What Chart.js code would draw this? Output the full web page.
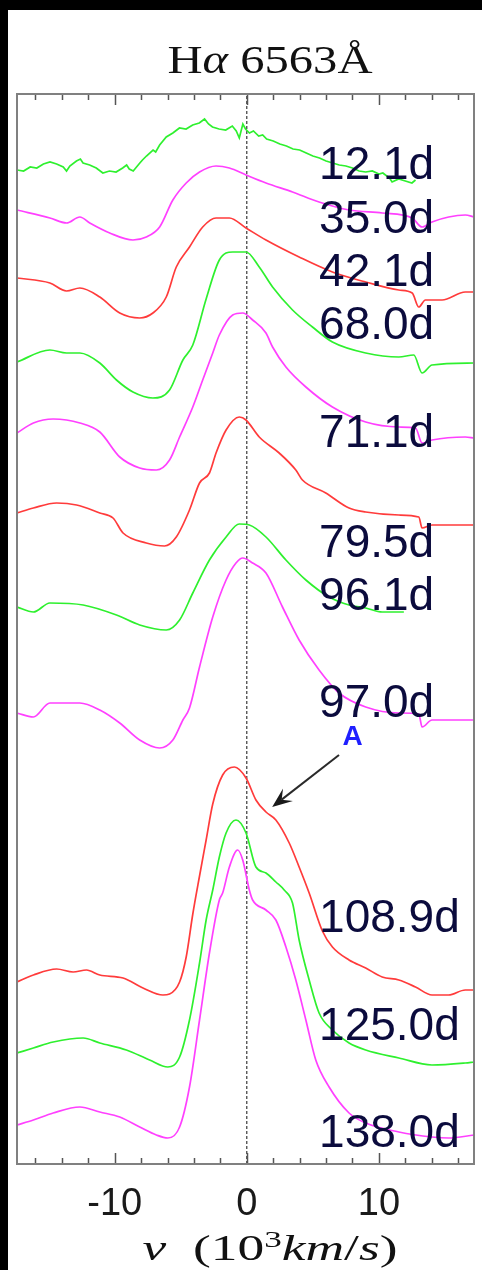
<!DOCTYPE html>
<html>
<head>
<meta charset="utf-8">
<script src="https://cdn.jsdelivr.net/npm/chart.js@4.4.1/dist/chart.umd.min.js"></script>
<style>
  html, body { margin: 0; padding: 0; background: #000; width: 482px; height: 1270px; overflow: hidden; }
  #panel { position: absolute; left: 8px; top: 10px; width: 474px; height: 1260px; background: #fff; }
  canvas { display: block; }
</style>
</head>
<body>
<div id="panel"><canvas id="spec" width="474" height="1260"></canvas></div>
<script>
// H-alpha line profiles, velocity in 10^3 km/s, flux scaled and shifted per epoch.
const epochs = ['12.1d', '35.0d', '42.1d', '68.0d', '71.1d', '79.5d', '96.1d', '97.0d', '108.9d', '125.0d', '138.0d'];
const colors = ['#2ef02e', '#ff40ff', '#ff3b3b', '#2ef02e', '#ff40ff', '#ff3b3b', '#2ef02e', '#ff40ff', '#ff3b3b', '#2ef02e', '#ff40ff'];

const v_12d = [-17.4,-16.9,-16.4,-15.9,-15.4,-14.9,-14.4,-13.9,-13.65,-13.4,-12.9,-12.6,-12.4,-11.9,-11.4,-10.9,-10.4,-9.9,-9.4,-9.1,-8.9,-8.6,-8.1,-7.9,-7.6,-7.1,-6.9,-6.6,-6.1,-5.6,-5.1,-4.6,-4.1,-3.6,-3.2,-2.9,-2.6,-2.1,-1.6,-1.1,-0.8,-0.57,-0.3,-0.1,0.2,0.5,0.9,1.2,1.5,2.0,2.5,3.0,3.5,4.0,4.5,5.0,5.5,6.0,6.5,7.0,7.5,8.0,8.5,9.0,9.5,10.0,10.3,10.8,11.0,11.5,12.0,12.5,12.77];
const f_12d = [9.94,9.93,9.97,9.96,10.00,10.02,10.00,9.97,9.93,9.98,10.03,10.05,10.01,9.99,9.96,9.91,9.93,9.92,9.96,9.99,9.95,9.93,10.01,10.04,10.08,10.14,10.12,10.19,10.27,10.31,10.36,10.35,10.39,10.41,10.45,10.40,10.37,10.35,10.34,10.38,10.33,10.26,10.40,10.35,10.31,10.33,10.28,10.29,10.25,10.23,10.20,10.18,10.15,10.14,10.11,10.08,10.06,10.03,10.01,9.99,9.98,9.96,9.93,9.92,9.93,9.90,9.91,9.86,9.82,9.85,9.83,9.81,9.84];

const v_35d = [-17.4,-14.91,-13.65,-12.64,-11.89,-10.38,-8.62,-7.61,-6.60,-5.60,-4.59,-3.58,-2.33,-1.32,-0.06,1.45,3.46,5.47,7.74,10.25,12.52,13.27,14.02,15.28,16.54,17.2];
const f_35d = [9.54,9.46,9.41,9.47,9.41,9.31,9.24,9.27,9.37,9.64,9.81,9.92,9.98,9.96,9.89,9.81,9.72,9.62,9.54,9.51,9.46,9.37,9.42,9.47,9.49,9.47];

const v_42d = [-17.4,-14.91,-13.65,-12.64,-11.13,-9.62,-8.11,-7.11,-6.10,-5.34,-4.34,-3.34,-2.33,-1.32,-0.06,1.45,3.96,6.48,9.00,11.51,12.52,13.02,13.52,14.78,16.54,17.2];
const f_42d = [8.86,8.81,8.73,8.76,8.67,8.51,8.46,8.51,8.67,8.97,9.17,9.37,9.46,9.46,9.36,9.24,9.07,8.92,8.82,8.74,8.71,8.57,8.64,8.64,8.72,8.72];

const v_68d = [-17.4,-14.91,-13.65,-12.64,-11.13,-9.87,-8.62,-7.11,-5.85,-4.84,-4.09,-3.08,-2.08,-1.07,-0.06,0.94,1.95,3.46,4.97,6.48,9.00,11.51,12.64,13.27,14.02,17.2];
const f_68d = [8.02,8.14,8.11,8.11,8.01,7.84,7.72,7.66,7.74,8.04,8.19,8.65,9.04,9.12,9.12,8.97,8.77,8.54,8.37,8.22,8.11,8.07,8.09,7.91,7.99,8.01];

const v_71d = [-17.4,-16.16,-14.66,-12.64,-11.13,-9.62,-8.11,-6.85,-5.85,-5.09,-4.09,-3.34,-2.58,-2.08,-1.07,-0.31,0.44,1.45,1.95,2.96,4.47,6.48,9.00,11.51,12.77,13.27,14.02,16.54,17.2];
const f_71d = [7.31,7.41,7.45,7.41,7.32,7.07,6.96,6.94,7.04,7.27,7.57,7.84,8.11,8.29,8.49,8.51,8.44,8.31,8.17,7.97,7.77,7.57,7.42,7.37,7.36,7.21,7.24,7.27,7.26];

const v_79d = [-17.4,-16.16,-14.40,-12.89,-11.13,-10.13,-9.37,-7.61,-6.23,-5.34,-4.34,-3.58,-2.83,-2.33,-1.57,-0.57,-0.06,0.94,2.45,3.71,4.21,5.98,7.74,9.00,11.51,13.02,13.27,14.02,17.2];
const f_79d = [6.51,6.56,6.61,6.59,6.51,6.46,6.31,6.21,6.18,6.27,6.54,6.81,6.91,7.11,7.34,7.47,7.44,7.27,7.11,6.94,6.84,6.71,6.56,6.52,6.49,6.47,6.36,6.39,6.39];

const v_96d = [-17.4,-16.16,-14.91,-12.39,-9.87,-8.11,-6.10,-5.09,-4.09,-2.83,-1.57,-0.57,0.19,1.45,2.96,4.47,6.23,7.74,9.00,10.25,11.89];
const f_96d = [5.57,5.52,5.61,5.59,5.49,5.39,5.34,5.44,5.71,6.04,6.27,6.40,6.39,6.27,6.04,5.84,5.67,5.59,5.56,5.52,5.52];

const v_97d = [-17.4,-16.16,-14.91,-12.64,-11.13,-9.62,-8.11,-6.60,-5.60,-4.84,-4.34,-3.58,-2.58,-1.57,-0.82,-0.31,0.44,1.45,2.70,3.96,5.47,6.98,9.00,11.51,13.02,13.27,14.02,17.2];
const f_97d = [4.51,4.47,4.61,4.61,4.54,4.41,4.24,4.16,4.24,4.44,4.56,4.97,5.47,5.84,6.01,6.06,6.01,5.91,5.57,5.24,4.94,4.71,4.57,4.51,4.50,4.37,4.44,4.44];

const v_108d = [-17.4,-16.16,-14.40,-13.15,-12.14,-11.13,-9.37,-7.86,-6.35,-5.85,-5.09,-4.59,-4.09,-3.58,-3.08,-2.58,-1.83,-0.94,-0.06,0.69,1.45,2.20,3.21,3.96,4.72,5.72,6.48,7.74,9.00,10.25,11.51,12.77,14.02,15.28,16.54,17.2];
const f_108d = [1.82,1.89,1.95,1.92,1.94,1.89,1.86,1.76,1.69,1.70,1.82,2.07,2.50,2.88,3.24,3.60,3.89,3.97,3.86,3.64,3.52,3.44,3.21,2.97,2.71,2.33,2.17,2.04,1.96,1.87,1.84,1.77,1.69,1.69,1.74,1.74];

const v_125d = [-17.4,-16.16,-14.66,-12.39,-11.13,-9.12,-7.36,-5.98,-5.09,-4.34,-3.58,-3.08,-2.58,-2.08,-1.57,-0.82,-0.06,0.69,1.45,2.20,2.83,3.46,3.96,4.72,5.47,6.48,7.74,9.00,11.51,14.02,16.54,17.2];
const f_125d = [1.11,1.16,1.22,1.26,1.21,1.14,1.04,0.97,1.07,1.44,2.01,2.44,2.74,3.07,3.31,3.44,3.31,2.97,2.91,2.82,2.74,2.61,2.24,1.84,1.51,1.34,1.21,1.14,1.06,0.99,1.01,1.02];

const v_138d = [-17.4,-16.16,-14.66,-12.64,-11.13,-9.62,-8.11,-6.85,-5.98,-5.09,-4.34,-3.58,-2.83,-2.08,-1.83,-1.32,-0.69,-0.31,0.19,0.44,1.45,2.20,2.96,3.71,4.47,5.22,6.23,7.74,9.00,11.51,14.02,15.28,17.2];
const f_138d = [0.39,0.44,0.51,0.57,0.52,0.47,0.37,0.29,0.26,0.37,0.77,1.44,2.11,2.64,2.71,2.97,3.14,3.04,2.74,2.64,2.54,2.44,2.17,1.84,1.44,1.04,0.77,0.51,0.41,0.32,0.27,0.26,0.29];

const velocities = [v_12d, v_35d, v_42d, v_68d, v_71d, v_79d, v_96d, v_97d, v_108d, v_125d, v_138d];
const fluxes = [f_12d, f_35d, f_42d, f_68d, f_71d, f_79d, f_96d, f_97d, f_108d, f_125d, f_138d];

// axis extents and tick marks
const xMin = -17.4, xMax = 17.2;
const yMin = 0, yMax = 10.7;
const xTickLabels = [-10, 0, 10];
const minorStep = 2;

// placement of the epoch labels (velocity, flux units)
const labelV = 5.47;
const labelBase = [9.85, 9.31, 8.78, 8.25, 7.17, 6.07, 5.54, 4.47, 2.32, 1.24, 0.17];

// feature marker "A" on the 108.9d shoulder
const markText = 'A';
const markPos = { v: 8.0, y: 4.19 };
const arrowFrom = { v: 6.98, y: 4.09 };
const arrowTo = { v: 1.92, y: 3.57 };

const datasets = velocities.map((vs, i) => ({
  label: epochs[i],
  data: vs.map((v, k) => ({ x: v, y: fluxes[i][k] })),
  borderColor: colors[i],
  borderWidth: 1.7,
  pointRadius: 0,
  cubicInterpolationMode: i === 0 ? 'default' : 'monotone',
  tension: i === 0 ? 0 : 0.4,
  fill: false
}));

// rest-velocity reference line
datasets.push({
  label: 'v=0',
  data: [{ x: 0, y: yMin }, { x: 0, y: yMax }],
  borderColor: '#111',
  borderWidth: 1,
  borderDash: [3, 2],
  pointRadius: 0,
  fill: false
});

function drawRich(ctx, parts, cx, baseY, width) {
  let w = 0;
  parts.forEach(p => { ctx.font = p.font; p.w = ctx.measureText(p.text).width; w += p.w; });
  const sx = width / w;
  ctx.save();
  ctx.translate(cx - width / 2, baseY);
  ctx.scale(sx, 1);
  ctx.textBaseline = 'alphabetic';
  ctx.textAlign = 'left';
  let x = 0;
  parts.forEach(p => { ctx.font = p.font; ctx.fillText(p.text, x, -(p.rise || 0)); x += p.w; });
  ctx.restore();
}

const decor = {
  id: 'decor',
  afterDraw(chart) {
    const { ctx, chartArea: a, scales: { x, y } } = chart;
    ctx.save();

    // inward tick marks on top and bottom edges
    ctx.strokeStyle = '#555';
    ctx.lineWidth = 1.5;
    for (let v = -16; v <= 16; v += minorStep) {
      const px = Math.round(x.getPixelForValue(v)) + 0.5;
      const len = v % 10 === 0 ? 11 : 6;
      ctx.beginPath();
      ctx.moveTo(px, a.top); ctx.lineTo(px, a.top + len);
      ctx.moveTo(px, a.bottom); ctx.lineTo(px, a.bottom - len);
      ctx.stroke();
    }

    // frame
    ctx.strokeStyle = '#808080';
    ctx.lineWidth = 2;
    ctx.strokeRect(a.left, a.top, a.right - a.left, a.bottom - a.top);

    // epoch labels
    ctx.fillStyle = '#0b0b3d';
    ctx.font = '46px "Liberation Sans", Arial, sans-serif';
    ctx.textAlign = 'left';
    ctx.textBaseline = 'alphabetic';
    epochs.forEach((t, i) => ctx.fillText(t, x.getPixelForValue(labelV), y.getPixelForValue(labelBase[i])));

    // marker and arrow
    ctx.fillStyle = '#1f1fff';
    ctx.font = 'bold 28px "Liberation Sans", Arial, sans-serif';
    ctx.textAlign = 'center';
    ctx.fillText(markText, x.getPixelForValue(markPos.v), y.getPixelForValue(markPos.y));

    const x0 = x.getPixelForValue(arrowFrom.v), y0 = y.getPixelForValue(arrowFrom.y);
    const x1 = x.getPixelForValue(arrowTo.v), y1 = y.getPixelForValue(arrowTo.y);
    const ang = Math.atan2(y1 - y0, x1 - x0);
    const hl = 20, hw = 8;
    ctx.strokeStyle = '#2a2a2a';
    ctx.fillStyle = '#1a1a1a';
    ctx.lineWidth = 2;
    ctx.beginPath();
    ctx.moveTo(x0, y0);
    ctx.lineTo(x1 - Math.cos(ang) * hl * 0.6, y1 - Math.sin(ang) * hl * 0.6);
    ctx.stroke();
    ctx.beginPath();
    ctx.moveTo(x1, y1);
    ctx.lineTo(x1 - Math.cos(ang) * hl - Math.sin(ang) * hw, y1 - Math.sin(ang) * hl + Math.cos(ang) * hw);
    ctx.lineTo(x1 - Math.cos(ang) * hl * 0.6, y1 - Math.sin(ang) * hl * 0.6);
    ctx.lineTo(x1 - Math.cos(ang) * hl + Math.sin(ang) * hw, y1 - Math.sin(ang) * hl - Math.cos(ang) * hw);
    ctx.closePath();
    ctx.fill();

    // title and axis title
    ctx.fillStyle = '#111';
    const serif = '"Liberation Serif", "DejaVu Serif", serif';
    drawRich(ctx, [
      { text: 'H', font: `40px ${serif}` },
      { text: 'α', font: `italic 40px ${serif}` },
      { text: ' 6563Å', font: `40px ${serif}` }
    ], 262, 63, 205);
    drawRich(ctx, [
      { text: 'v', font: `italic 35px ${serif}` },
      { text: '  (10', font: `35px ${serif}` },
      { text: '3', font: `23px ${serif}`, rise: 13 },
      { text: 'km', font: `italic 35px ${serif}` },
      { text: '/', font: `35px ${serif}` },
      { text: 's', font: `italic 35px ${serif}` },
      { text: ')', font: `35px ${serif}` }
    ], 262, 1250, 255);

    ctx.restore();
  }
};

new Chart(document.getElementById('spec'), {
  type: 'line',
  data: { datasets },
  options: {
    responsive: false,
    animation: false,
    devicePixelRatio: 1,
    layout: { padding: { left: 9, right: 8, top: 84, bottom: 0 } },
    plugins: { legend: { display: false }, tooltip: { enabled: false }, title: { display: false } },
    scales: {
      x: {
        type: 'linear',
        min: xMin,
        max: xMax,
        grid: { display: false },
        border: { display: false },
        afterBuildTicks: s => { s.ticks = xTickLabels.map(v => ({ value: v })); },
        afterFit: s => { s.height = 106; },
        ticks: {
          color: '#1a1a1a',
          padding: 10,
          maxRotation: 0,
          font: { family: '"Liberation Sans", Arial, sans-serif', size: 38 },
          callback: v => String(v)
        }
      },
      y: { type: 'linear', min: yMin, max: yMax, display: false }
    }
  },
  plugins: [decor]
});
</script>
</body>
</html>
